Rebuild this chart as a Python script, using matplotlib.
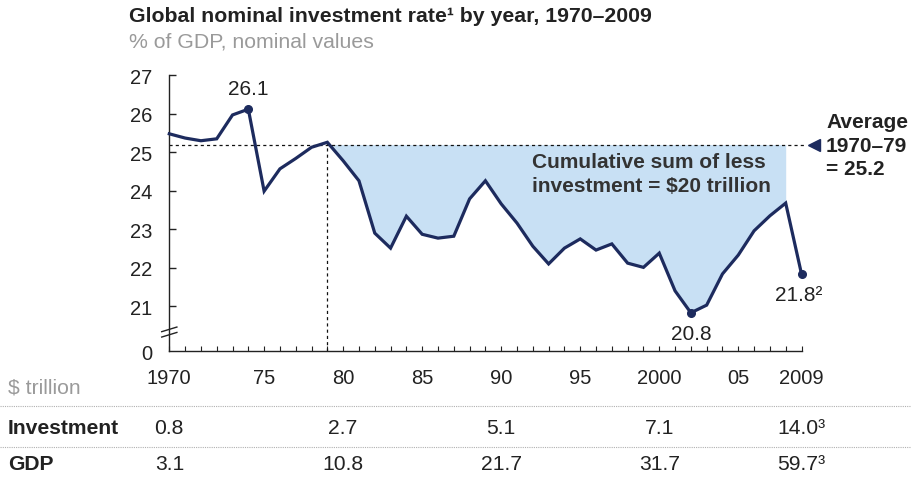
import numpy as np
import matplotlib
matplotlib.use("Agg")
import matplotlib.pyplot as plt
from matplotlib.transforms import blended_transform_factory as btf
from matplotlib.lines import Line2D

plt.rcParams['font.family'] = ['Liberation Sans', 'DejaVu Sans']

# ---- data ----
years = list(range(1969, 2010))
rate = [25.48, 25.37, 25.30, 25.35, 25.97, 26.12, 23.99, 24.57, 24.84, 25.13, 25.26,
        24.78, 24.26, 22.90, 22.51, 23.34, 22.87, 22.77, 22.82, 23.79, 24.26,
        23.66, 23.16, 22.56, 22.10, 22.51, 22.75, 22.46, 22.62, 22.12, 22.01,
        22.38, 21.40, 20.83, 21.03, 21.84, 22.33, 22.96, 23.35, 23.68, 21.84]
avg_value = 25.2
avg_end_year = 1979
fill_end_year = 2008
labeled_years = [1974, 2002, 2009]
labeled_text = ["26.1", "20.8", "21.8²"]
yticks = [21, 22, 23, 24, 25, 26, 27]
xtick_pos = [1969, 1975, 1980, 1985, 1990, 1995, 2000, 2005, 2009]
xtick_labels = ["1970", "75", "80", "85", "90", "95", "2000", "05", "2009"]
table_years = [1969, 1980, 1990, 2000, 2009]
investment = ["0.8", "2.7", "5.1", "7.1", "14.0³"]
gdp = ["3.1", "10.8", "21.7", "31.7", "59.7³"]

NAVY = "#1d2b5e"
FILL = "#c8e0f4"
TXT = "#222222"
GRAY = "#9a9a9a"

FS_TITLE = 15.3
FS_TICK = 14.5
FS_ANN = 15
FS_TAB = 15.2

W, H = 911, 481
fig = plt.figure(figsize=(W / 100, H / 100), dpi=100)
ax = fig.add_axes([169.3 / W, 1 - 352.3 / H, (801.5 - 169.3) / W, (352.3 - 76.3) / H])

ymin = 19.83
ax.set_xlim(years[0], years[-1])
ax.set_ylim(ymin, 27)

x = np.array(years)
y = np.array(rate)

# shaded area below average
m = (x >= avg_end_year) & (x <= fill_end_year)
ax.fill_between(x[m], np.minimum(y[m], avg_value), avg_value, color=FILL, lw=0, zorder=1)

# dashed reference lines
ax.plot([years[0], years[-1] + 0.15], [avg_value, avg_value], ls=(0, (2.5, 2.5)), color="#111111",
        lw=0.9, zorder=2, clip_on=False)
i79 = years.index(avg_end_year)
ax.plot([avg_end_year, avg_end_year], [ymin, rate[i79]], ls=(0, (2.5, 2.5)), color="#111111",
        lw=0.9, zorder=2)

# main line
ax.plot(x, y, color=NAVY, lw=2.3, zorder=3, clip_on=False, solid_joinstyle='miter')
for yr in labeled_years:
    i = years.index(yr)
    ax.plot(yr, rate[i], 'o', color=NAVY, ms=5.5, zorder=4, clip_on=False)

ax.text(1974, rate[years.index(1974)] + 0.3, labeled_text[0], ha='center', va='bottom',
        fontsize=FS_ANN, color=TXT)
ax.text(2002, rate[years.index(2002)] - 0.28, labeled_text[1], ha='center', va='top',
        fontsize=FS_ANN, color=TXT)
ax.text(2008.8, rate[years.index(2009)] - 0.3, labeled_text[2], ha='center', va='top',
        fontsize=FS_ANN, color=TXT)

# triangle marker & average label
tr = btf(fig.transFigure, ax.transData)
ax.plot([814 / W], [avg_value], marker='<', color=NAVY, ms=9, transform=tr, clip_on=False)
fig.text(826 / W, 1 - 146 / H, "Average\n1970–79\n= 25.2", ha='left', va='center',
         fontsize=FS_ANN, fontweight='bold', color=TXT, linespacing=1.33)

ax.text(1991.95, 24.45, "Cumulative sum of less\ninvestment = $20 trillion", ha='left', va='center',
        fontsize=FS_ANN, fontweight='bold', color="#333333", linespacing=1.33)

# axes styling
for s in ['top', 'right']:
    ax.spines[s].set_visible(False)
for s in ['left', 'bottom']:
    ax.spines[s].set_color("#222222")
    ax.spines[s].set_linewidth(1.0)
ax.set_yticks([ymin] + yticks)
ax.set_yticklabels(["0"] + [str(v) for v in yticks])
ax.set_xticks(years, minor=True)
ax.set_xticks(xtick_pos)
ax.set_xticklabels(xtick_labels)
ax.tick_params(axis='y', direction='in', length=5.3, width=1, pad=12, labelsize=FS_TICK,
               colors="#222222")
ax.tick_params(axis='x', which='both', direction='in', length=3.6, width=0.8, pad=12,
               labelsize=FS_TICK, colors="#222222")
ax.yaxis.get_major_ticks()[0].tick1line.set_visible(False)

# axis break marks
brk_y = 20.33
for dy in (-0.07, 0.07):
    ax.add_line(Line2D([-0.012, 0.012], [brk_y + dy - 0.06, brk_y + dy + 0.06],
                       transform=btf(ax.transAxes, ax.transData), color="#222222", lw=1,
                       clip_on=False))

# titles
fig.text(129 / W, 1 - 17 / H, "Global nominal investment rate¹ by year, 1970–2009", ha='left',
         va='center', fontsize=FS_TITLE, fontweight='bold', color=TXT)
fig.text(129 / W, 1 - 42 / H, "% of GDP, nominal values", ha='left', va='center',
         fontsize=FS_TITLE, color=GRAY)

# table
tx = btf(ax.transData, fig.transFigure)
fig.text(8 / W, 1 - 388 / H, "$ trillion", ha='left', va='center', fontsize=FS_TAB, color=GRAY)
for yy in (406.5, 447.5):
    fig.add_artist(Line2D([0, 1], [1 - yy / H, 1 - yy / H], transform=fig.transFigure,
                          color="#b0b0b0", lw=0.8, ls=(0, (1, 1))))
fig.text(8 / W, 1 - 428 / H, "Investment", ha='left', va='center', fontsize=FS_TAB,
         fontweight='bold', color=TXT)
fig.text(8 / W, 1 - 465 / H, "GDP", ha='left', va='center', fontsize=FS_TAB,
         fontweight='bold', color=TXT)
for yr, iv, gv in zip(table_years, investment, gdp):
    fig.text(yr, 1 - 428 / H, iv, transform=tx, ha='center', va='center', fontsize=FS_TAB, color=TXT)
    fig.text(yr, 1 - 465 / H, gv, transform=tx, ha='center', va='center', fontsize=FS_TAB, color=TXT)

fig.savefig("out.png", dpi=100)
